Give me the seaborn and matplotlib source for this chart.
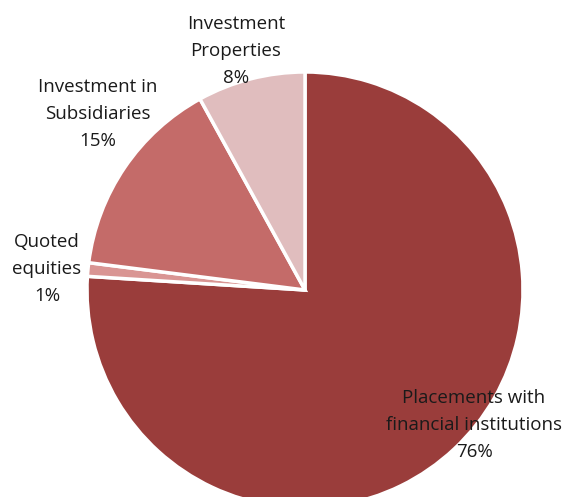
import matplotlib
matplotlib.use("Agg")
import matplotlib.pyplot as plt
import seaborn as sns

categories = ["Placements with\nfinancial institutions", "Quoted\nequities",
              "Investment in\nSubsidiaries", "Investment\nProperties"]
values = [76, 1, 15, 8]
pct_labels = ["76%", "1%", "15%", "8%"]
colors = ["#9A3D3B", "#D99593", "#C46B69", "#E0BDBE"]

sns.set_theme(style="white")
plt.rcParams['font.family'] = ['Open Sans', 'DejaVu Sans']

W, H = 566, 497
fig = plt.figure(figsize=(W / 100, H / 100), dpi=100)
ax = fig.add_axes([0, 0, 1, 1])
cx, cy, R = 305, 290, 218
ax.pie(values, colors=colors, startangle=90, counterclock=False,
       radius=1.0, wedgeprops=dict(edgecolor="white", linewidth=2.5))
ax.set_xlim(-cx / R, (W - cx) / R)
ax.set_ylim(-(H - cy) / R, cy / R)
ax.set_aspect("equal")
ax.axis("off")

# label centres in pixel coordinates of the reference
label_px = [(474, 425), (47, 269), (98, 114), (236, 51)]
for (px, py), cat, pct in zip(label_px, categories, pct_labels):
    ax.text((px - cx) / R, (cy - py) / R, cat + "\n" + pct,
            ha="center", va="center", fontsize=13.5, linespacing=1.62,
            color="#1a1a1a")

fig.savefig("out.png", dpi=100)
